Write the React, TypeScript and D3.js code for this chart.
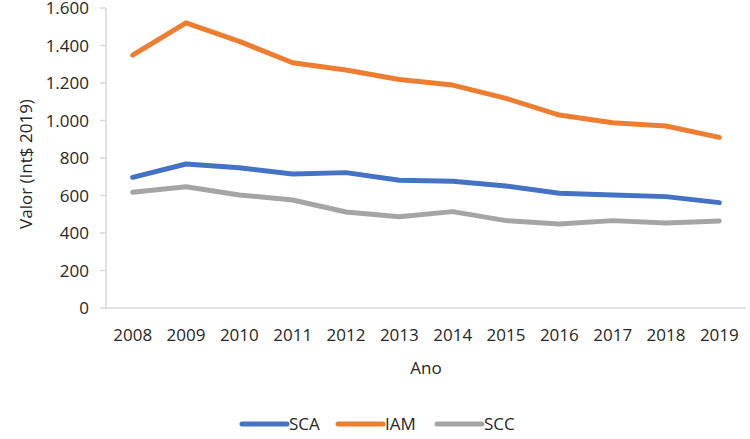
import React from "react";
import * as d3 from "d3";

const years = ["2008","2009","2010","2011","2012","2013","2014","2015","2016","2017","2018","2019"];
const sca = [697, 768, 748, 715, 722, 681, 676, 651, 612, 603, 594, 562];
const iam = [1349, 1521, 1422, 1308, 1269, 1219, 1189, 1118, 1029, 988, 971, 910];
const scc = [617, 647, 603, 576, 512, 487, 514, 466, 448, 466, 453, 464];
const yTicks = [0, 200, 400, 600, 800, 1000, 1200, 1400, 1600];
const seriesNames = ["SCA", "IAM", "SCC"];
const colors = ["#4472C4", "#ED7D31", "#A5A5A5"];

const W = 750, H = 439;
const left = 106, right = 746, top = 8, bottom = 308;
const font = "'Open Sans', 'Noto Sans', sans-serif";
const textColor = "#262626";
const axisColor = "#D9D9D9";

function fmt(v: number) {
  return d3.format(",")(v).replace(/,/g, ".");
}

export default function App() {
  const x = d3.scaleBand<string>().domain(years).range([left, right]).padding(0);
  const y = d3.scaleLinear().domain([0, 1600]).range([bottom, top]);
  const cx = (yr: string) => (x(yr) as number) + x.bandwidth() / 2;
  const line = d3.line<number>().x((_, i) => cx(years[i])).y((d) => y(d));
  const data = [sca, iam, scc];
  const legendX = [242, 338, 437];
  const legendY = 424;

  return (
    <svg width={W} height={H} style={{ position: "absolute", left: 0, top: 0, background: "#fff" }} fontFamily={font}>
      {/* y axis */}
      <line x1={left} x2={left} y1={y(1600)} y2={y(0)} stroke={axisColor} strokeWidth={1.5} />
      {yTicks.map((t) => (
        <g key={t}>
          <line x1={left - 6} x2={left} y1={y(t)} y2={y(t)} stroke={axisColor} strokeWidth={1.5} />
          <text x={89} y={y(t)} dy="0.36em" textAnchor="end" fontSize={17} fill={textColor}>{fmt(t)}</text>
        </g>
      ))}
      {/* x axis */}
      <line x1={left} x2={right} y1={y(0)} y2={y(0)} stroke={axisColor} strokeWidth={1.5} />
      {years.map((yr) => (
        <text key={yr} x={cx(yr)} y={341} textAnchor="middle" fontSize={17} fill={textColor}>{yr}</text>
      ))}
      <text x={(left + right) / 2} y={374} textAnchor="middle" fontSize={17} fill={textColor}>Ano</text>
      <text transform={`translate(32,${164}) rotate(-90)`} textAnchor="middle" fontSize={17} fill={textColor}>Valor (Int$ 2019)</text>
      {/* lines */}
      {data.map((s, i) => (
        <path key={i} d={line(s) || ""} fill="none" stroke={colors[i]} strokeWidth={5} strokeLinejoin="round" strokeLinecap="round" />
      ))}
      {/* legend */}
      {seriesNames.map((n, i) => (
        <g key={n}>
          <line x1={legendX[i]} x2={legendX[i] + 45} y1={legendY} y2={legendY} stroke={colors[i]} strokeWidth={5} strokeLinecap="round" />
          <text x={legendX[i] + 47} y={legendY} dy="0.36em" fontSize={17} fill={textColor}>{n}</text>
        </g>
      ))}
    </svg>
  );
}
